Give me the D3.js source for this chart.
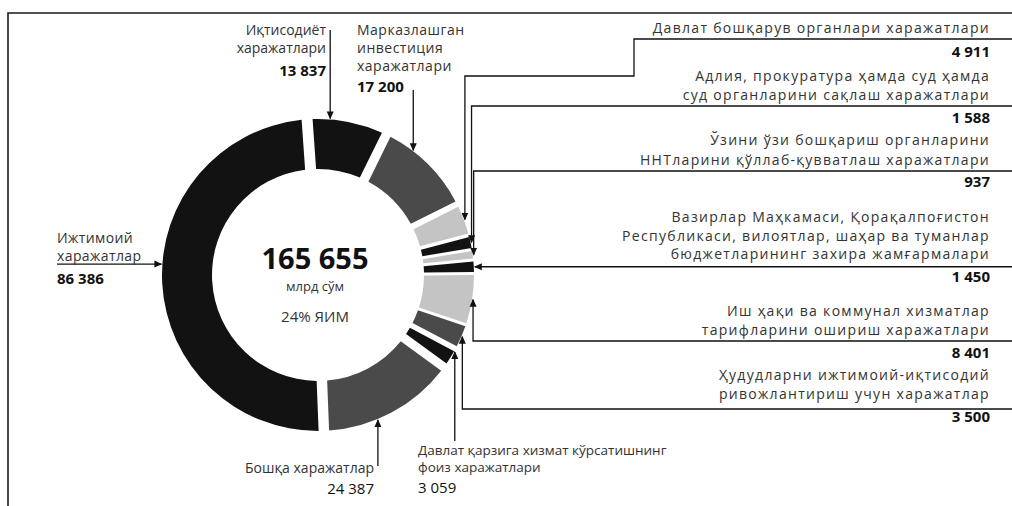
<!DOCTYPE html>
<html>
<head>
<meta charset="utf-8">
<script src="https://cdn.jsdelivr.net/npm/d3@7"></script>
<style>
  html, body { margin: 0; background: #fff; }
  svg { display: block; }
</style>
</head>
<body>
<svg id="chart" width="1012" height="506"></svg>
<script>
// spending items, clockwise from the top of the ring
const categories = [
  ['Иқтисодиёт', 'харажатлари'],
  ['Марказлашган', 'инвестиция', 'харажатлари'],
  ['Давлат бошқарув органлари харажатлари'],
  ['Адлия, прокуратура ҳамда суд ҳамда', 'суд органларини сақлаш харажатлари'],
  ['Ўзини ўзи бошқариш органларини', 'ННТларини қўллаб-қувватлаш харажатлари'],
  ['Вазирлар Маҳкамаси, Қорақалпоғистон', 'Республикаси, вилоятлар, шаҳар ва туманлар', 'бюджетларининг захира жамғармалари'],
  ['Иш ҳақи ва коммунал хизматлар', 'тарифларини ошириш харажатлари'],
  ['Ҳудудларни ижтимоий-иқтисодий', 'ривожлантириш учун харажатлар'],
  ['Давлат қарзига хизмат кўрсатишнинг', 'фоиз харажатлари'],
  ['Бошқа харажатлар'],
  ['Ижтимоий', 'харажатлар']
]
const values = [13837, 17200, 4911, 1588, 937, 1450, 8401, 3500, 3059, 24387, 86386]
const total = 165655
const totalUnit = 'млрд сўм'
const gdpShare = '24% ЯИМ'

const shades = ['#121212', '#4a4a4a', '#c4c4c4', '#121212', '#c4c4c4', '#121212',
  '#c4c4c4', '#4a4a4a', '#121212', '#4a4a4a', '#121212']
const gapPx = [11, 8, 4, 3, 3, 3, 3, 3, 8, 10, 11]

const width = 1012
const height = 506
const cx = 318
const cy = 275
const outerR = 156
const innerR = 106

const fmt = (v) => d3.format(',')(v).replace(/,/g, ' ')

const svg = d3.select('#chart')
svg.attr('viewBox', `0 0 ${width} ${height}`)

svg.append('defs')
  .append('marker')
  .attr('id', 'tip')
  .attr('markerUnits', 'userSpaceOnUse')
  .attr('markerWidth', 8)
  .attr('markerHeight', 8)
  .attr('viewBox', '0 0 8 8')
  .attr('refX', 7)
  .attr('refY', 4)
  .attr('orient', 'auto')
  .append('path')
  .attr('d', 'M0,0.5 L8,4 L0,7.5 Z')
  .attr('fill', '#111')

// frame
svg.append('path')
  .attr('d', `M${width},13 H8 V${height}`)
  .attr('fill', 'none')
  .attr('stroke', '#1a1a1a')
  .attr('stroke-width', 1.6)

const pie = d3.pie()
  .sort(null)
  .value((d) => d)
  .startAngle(-0.07)
  .endAngle(2 * Math.PI - 0.07)
  .padAngle(0.035)

const arcs = pie(values)

const arc = d3.arc()
  .innerRadius(innerR)
  .outerRadius(outerR)
  .padRadius(outerR)
  .padAngle((d) => gapPx[d.index] / outerR)

svg.append('g')
  .attr('transform', `translate(${cx},${cy})`)
  .selectAll('path')
  .data(arcs)
  .join('path')
  .attr('d', arc)
  .attr('fill', (d) => shades[d.index])

// where on the ring each leader points (fraction of the slice) and label placement
const rightX = 990
const right = { anchor: 'end', x: rightX, size: 14, spacing: 1.3, numSize: 15 }
const labelLayout = [
  { frac: 0.28, anchor: 'end', x: 326, y: 35, lh: 18, numDy: 23, size: 14, leader: (t) => [[t[0], 30]] },
  { frac: 0.3, anchor: 'start', x: 357, y: 35, lh: 18, numDy: 21, size: 14, spacing: 0.5, leader: (t) => [[t[0], 90]] },
  { ...right, frac: 0.5, y: 33, lh: 19, numDy: 24,
    leader: (t, u) => [[t[0], 76], [634, 76], [634, u], [width, u]] },
  { ...right, frac: 0.5, y: 81, lh: 19, numDy: 23,
    leader: (t, u) => [[t[0], u], [width, u]] },
  { ...right, frac: 0.5, y: 145, lh: 20, numDy: 22,
    leader: (t, u) => [[t[0], u], [width, u]] },
  { ...right, frac: 0.5, y: 222, lh: 18.5, numDy: 23,
    leader: (t) => [[width, t[1]]] },
  { ...right, frac: 0.5, y: 316, lh: 19, numDy: 23,
    leader: (t, u) => [[t[0], u], [width, u]] },
  { ...right, frac: 0.5, y: 380, lh: 19, numDy: 23,
    leader: (t, u) => [[t[0], u + 4], [width, u + 4]] },
  { frac: 0.2, anchor: 'start', x: 418, y: 455, lh: 17, numDy: 21, size: 13.5, leader: (t) => [[t[0], 441]] },
  { frac: 0.61, anchor: 'end', x: 374, y: 473, lh: 18, numDy: 21, size: 14, leader: (t) => [[t[0], 466]] },
  { frac: 0.54, anchor: 'start', x: 57, y: 243, lh: 18, numDy: 23, size: 14, spacing: 0.4, leader: (t) => [[57, t[1]]] }
]

const tipPoint = (d, frac) => {
  const a = d.startAngle + frac * (d.endAngle - d.startAngle)
  return [cx + (outerR + 1) * Math.sin(a), cy - (outerR + 1) * Math.cos(a)]
}

const leaders = svg.append('g')
const labels = svg.append('g')

arcs.forEach((d, i) => {
  const lay = labelLayout[i]
  const lines = categories[i]
  const lastY = lay.y + (lines.length - 1) * lay.lh
  const underline = lastY + 6
  const tip = tipPoint(d, lay.frac)
  const pts = lay.leader(tip, underline).reverse().concat([tip])

  leaders.append('path')
    .attr('d', d3.line()(pts))
    .attr('fill', 'none')
    .attr('stroke', '#111')
    .attr('stroke-width', 1.3)
    .attr('marker-end', 'url(#tip)')

  const t = labels.append('text')
    .attr('text-anchor', lay.anchor)
    .attr('font-family', 'Open Sans, sans-serif')
    .attr('font-size', lay.size)
    .attr('letter-spacing', lay.spacing || 0)
    .attr('fill', '#333')

  lines.forEach((line, k) => {
    t.append('tspan')
      .attr('x', lay.x)
      .attr('y', lay.y + k * lay.lh)
      .text(line)
  })

  labels.append('text')
    .attr('x', lay.x)
    .attr('y', lastY + lay.numDy)
    .attr('text-anchor', lay.anchor)
    .attr('font-family', 'Open Sans, sans-serif')
    .attr('font-size', lay.numSize || 15)
    .attr('font-weight', i === 8 || i === 9 ? 400 : 700)
    .attr('fill', '#111')
    .text(fmt(values[i]))
})

// centre
const centre = svg.append('g').attr('text-anchor', 'middle').attr('font-family', 'Open Sans, sans-serif')
centre.append('text')
  .attr('x', cx - 3)
  .attr('y', cy - 6)
  .attr('font-size', 29)
  .attr('font-weight', 700)
  .attr('fill', '#111')
  .text(fmt(total))
centre.append('text')
  .attr('x', cx - 3)
  .attr('y', cy + 16)
  .attr('font-size', 13)
  .attr('fill', '#333')
  .text(totalUnit)
centre.append('text')
  .attr('x', cx - 3)
  .attr('y', cy + 47)
  .attr('font-size', 15)
  .attr('fill', '#333')
  .text(gdpShare)
</script>
</body>
</html>
